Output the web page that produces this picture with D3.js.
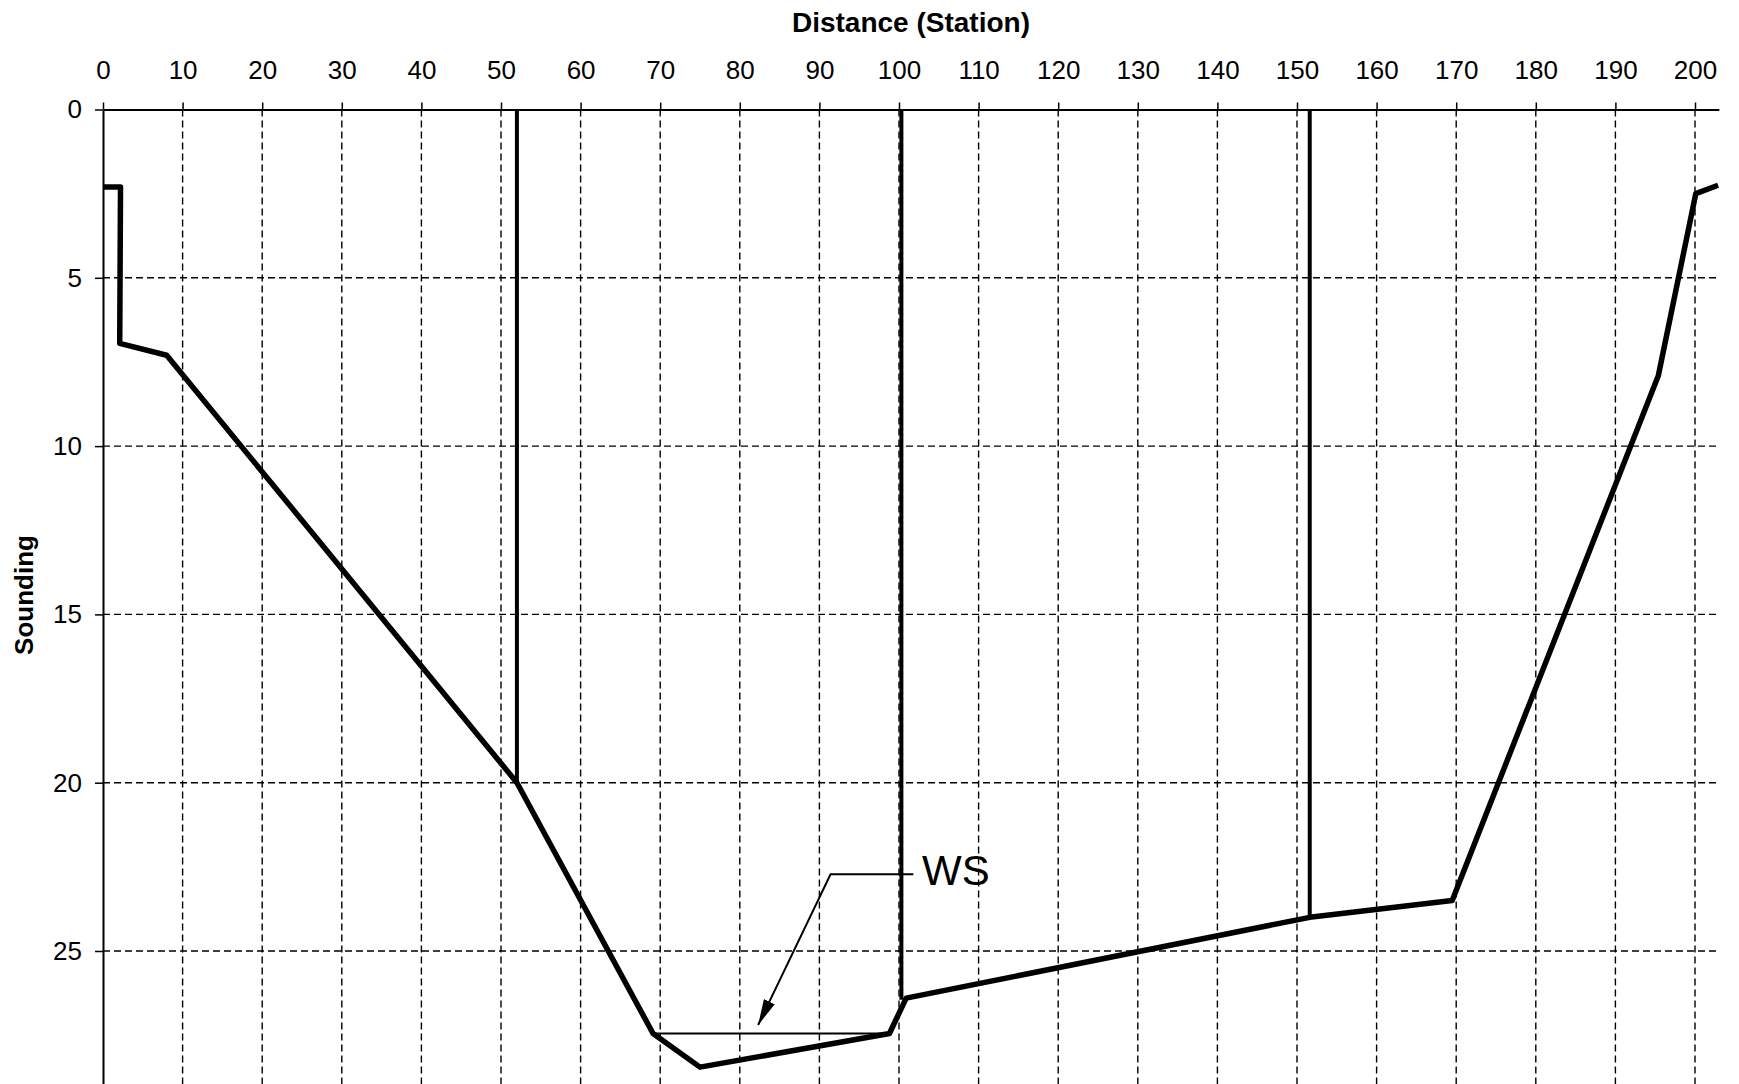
<!DOCTYPE html>
<html>
<head>
<meta charset="utf-8">
<script src="https://cdn.jsdelivr.net/npm/d3@7.9.0/dist/d3.min.js"></script>
<style>
  body { margin: 0; background: #fff; }
  svg { display: block; font-family: "Liberation Sans", Arial, sans-serif; }
</style>
</head>
<body>
<div id="chart"></div>
<script>
// Cross-section: station (distance) vs sounding (depth)
const stations  = [0, 2.2, 2.1, 8.0, 52.0, 69.1, 75.0, 98.8, 100.9, 151.6, 169.5, 195.4, 200.1, 202.9];
const soundings = [2.3, 2.3, 6.95, 7.3, 20.0, 27.45, 28.45, 27.45, 26.4, 24.0, 23.5, 7.9, 2.5, 2.25];

// vertical section lines
const verticalStations = [52.0, 100.3, 151.6];
const verticalBottoms  = [20.0, 26.45, 24.0];

// water surface
const wsStations = [69.1, 98.8];
const wsLevel = 27.45;

// WS leader with arrow
const leaderStations = [101.8, 91.4, 82.3];
const leaderDepths   = [22.72, 22.72, 27.2];
const wsLabel = { text: 'WS', station: 102.9, depth: 22.6 };

const xTicks = d3.range(0, 201, 10);
const yTicks = [0, 5, 10, 15, 20, 25];

const width = 1739;
const height = 1084;
const margin = { top: 109.5, left: 103 };
const xMax = 203;

const xScale = d3.scaleLinear().domain([0, xMax]).range([margin.left, margin.left + xMax * 7.96]);
const yScale = d3.scaleLinear().domain([0, 29]).range([margin.top, margin.top + 29 * 33.66]);

const svg = d3.select('#chart')
  .append('svg')
  .attr('width', width)
  .attr('height', height);

svg.append('defs').append('marker')
  .attr('id', 'arrow')
  .attr('viewBox', '0 0 26 12')
  .attr('refX', 26)
  .attr('refY', 6)
  .attr('markerWidth', 26)
  .attr('markerHeight', 12)
  .attr('markerUnits', 'userSpaceOnUse')
  .attr('orient', 'auto')
  .append('path')
  .attr('d', 'M0,0 L26,6 L0,12 Z')
  .attr('fill', '#000');

// gridlines (dashed)
const grid = svg.append('g').attr('class', 'grid')
  .attr('stroke', '#000')
  .attr('stroke-width', 1.4)
  .attr('stroke-dasharray', '7,4');

grid.selectAll('line.v')
  .data(xTicks.filter(d => d > 0))
  .join('line')
  .attr('class', 'v')
  .attr('x1', d => xScale(d)).attr('x2', d => xScale(d))
  .attr('y1', yScale(0)).attr('y2', yScale(29));

grid.selectAll('line.h')
  .data(yTicks.filter(d => d > 0))
  .join('line')
  .attr('class', 'h')
  .attr('x1', xScale(0)).attr('x2', xScale(xMax))
  .attr('y1', d => yScale(d)).attr('y2', d => yScale(d));

// axes
const xAxis = svg.append('g')
  .attr('transform', `translate(0, ${yScale(0)})`)
  .call(d3.axisTop(xScale).tickValues(xTicks).tickSize(7).tickSizeOuter(0).tickPadding(24));

const yAxis = svg.append('g')
  .attr('transform', `translate(${xScale(0)}, 0)`)
  .call(d3.axisLeft(yScale).tickValues(yTicks).tickSize(8).tickSizeOuter(0).tickPadding(13));

[xAxis, yAxis].forEach(ax => {
  ax.select('.domain').attr('stroke', '#000').attr('stroke-width', 2);
  ax.selectAll('.tick line').attr('stroke', '#000').attr('stroke-width', 1.5);
  ax.selectAll('.tick text')
    .attr('fill', '#000')
    .style('font-size', '26px')
    .style('font-family', '"Liberation Sans", Arial, sans-serif');
});

// axis titles
svg.append('text')
  .attr('x', (xScale(0) + xScale(xMax)) / 2)
  .attr('y', 32)
  .attr('text-anchor', 'middle')
  .style('font-size', '28px')
  .style('font-weight', 'bold')
  .text('Distance (Station)');

svg.append('text')
  .attr('transform', 'translate(33, 595) rotate(-90)')
  .attr('text-anchor', 'middle')
  .style('font-size', '26px')
  .style('font-weight', 'bold')
  .text('Sounding');

// water surface line
svg.append('line')
  .attr('x1', xScale(wsStations[0])).attr('x2', xScale(wsStations[1]))
  .attr('y1', yScale(wsLevel)).attr('y2', yScale(wsLevel))
  .attr('stroke', '#000')
  .attr('stroke-width', 2);

// vertical section lines
svg.append('g').selectAll('line')
  .data(verticalStations.map((s, i) => ({ s, b: verticalBottoms[i] })))
  .join('line')
  .attr('x1', d => xScale(d.s)).attr('x2', d => xScale(d.s))
  .attr('y1', yScale(0)).attr('y2', d => yScale(d.b))
  .attr('stroke', '#000')
  .attr('stroke-width', 4);

// channel bed
const line = d3.line()
  .x(d => xScale(d[0]))
  .y(d => yScale(d[1]));

svg.append('path')
  .datum(stations.map((s, i) => [s, soundings[i]]))
  .attr('d', line)
  .attr('fill', 'none')
  .attr('stroke', '#000')
  .attr('stroke-width', 5.5)
  .attr('stroke-linejoin', 'round');

// WS leader + label
svg.append('path')
  .datum(leaderStations.map((s, i) => [s, leaderDepths[i]]))
  .attr('d', line)
  .attr('fill', 'none')
  .attr('stroke', '#000')
  .attr('stroke-width', 2)
  .attr('marker-end', 'url(#arrow)');

svg.append('text')
  .attr('x', xScale(wsLabel.station))
  .attr('y', yScale(wsLabel.depth))
  .attr('dy', '0.36em')
  .style('font-size', '42px')
  .text(wsLabel.text);
</script>
</body>
</html>
